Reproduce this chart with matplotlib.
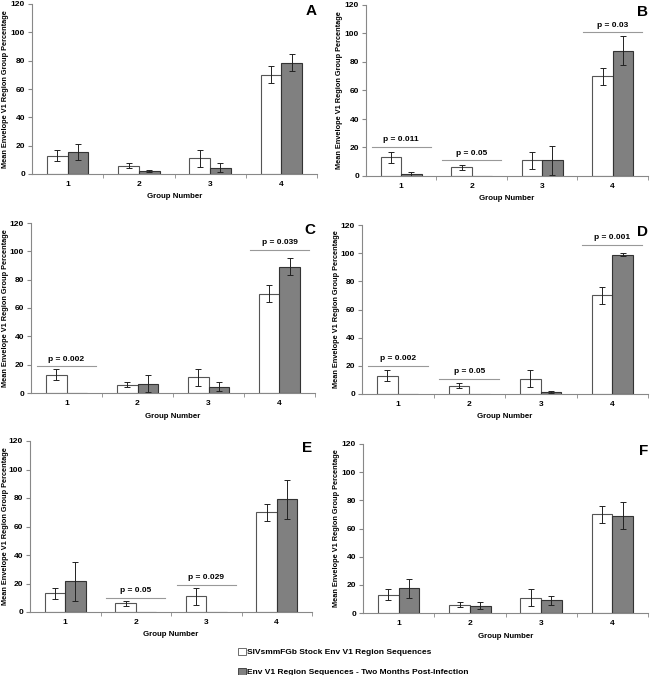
import matplotlib
matplotlib.use("Agg")
import matplotlib.pyplot as plt
import numpy as np
from matplotlib.patches import Patch

plt.rcParams["font.family"] = ["Liberation Sans", "DejaVu Sans"]
plt.rcParams["font.weight"] = "bold"

# %%
# data
groups = ["1", "2", "3", "4"]
stock_mean = [13, 6, 11, 70]
stock_err = [4, 2, 6, 6]

panels = ["A", "B", "C", "D", "E", "F"]
infect_mean = {
    "A": [15.5, 2, 4.5, 78.5],
    "B": [1.5, 0, 11, 88],
    "C": [0, 6.5, 4.5, 89],
    "D": [0, 0, 1.5, 99],
    "E": [21.5, 0, 0, 79],
    "F": [17.5, 5, 9, 69],
}
infect_err = {
    "A": [5.5, 0.8, 3, 6],
    "B": [1.5, 0, 10, 10],
    "C": [0, 6, 3, 6],
    "D": [0, 0, 0.8, 0.8],
    "E": [13.5, 0, 0, 13.5],
    "F": [6.5, 2.5, 3, 9.5],
}
# (group index, line height, label)
pvals = {
    "B": [(0, 20.5, "p = 0.011"), (1, 11, "p = 0.05"), (3, 101, "p = 0.03")],
    "C": [(0, 19, "p = 0.002"), (3, 101, "p = 0.039")],
    "D": [(0, 20, "p = 0.002"), (1, 11, "p = 0.05"), (3, 106, "p = 0.001")],
    "E": [(1, 10, "p = 0.05"), (2, 19, "p = 0.029")],
}

# axes rectangles in pixels: left, top, right, bottom
rects = {
    "A": (32, 4, 317, 174),
    "B": (366, 5, 648, 176),
    "C": (31, 223, 315, 393),
    "D": (362, 225, 648, 394),
    "E": (30, 441, 312, 612),
    "F": (363, 444, 648, 613),
}

W, H = 650, 675
fig = plt.figure(figsize=(6.5, 6.75), dpi=100)

x = np.arange(1, 5)
bw = 0.29
grey = "#808080"

for name in panels:
    l, t, r, b = rects[name]
    ax = fig.add_axes([l / W, 1 - b / H, (r - l) / W, (b - t) / H])
    ax.bar(x - bw / 2, stock_mean, bw, color="white", edgecolor="#555555", lw=0.8)
    ax.bar(x + bw / 2, infect_mean[name], bw, color=grey, edgecolor="#333333", lw=0.8)
    ax.errorbar(x - bw / 2, stock_mean, yerr=stock_err, fmt="none",
                ecolor="#222222", elinewidth=0.7, capsize=2, capthick=0.7)
    ax.errorbar(x + bw / 2, infect_mean[name], yerr=infect_err[name], fmt="none",
                ecolor="#222222", elinewidth=0.7, capsize=2, capthick=0.7)

    for gi, yl, txt in pvals.get(name, []):
        xc = x[gi]
        ax.plot([xc - 0.42, xc + 0.42], [yl, yl], color="#999999", lw=0.8)
        ax.text(xc, yl + 2.5, txt, ha="center", va="bottom", fontsize=6, fontweight="bold")

    ax.set_xlim(0.5, 4.5)
    ax.set_ylim(0, 120)
    ax.set_yticks(range(0, 121, 20))
    ax.set_xticks(x)
    ax.set_xticklabels(groups)
    ax.set_xticks([1.5, 2.5, 3.5, 4.5], minor=True)
    ax.tick_params(axis="x", which="major", length=0, labelsize=6, pad=5)
    ax.tick_params(axis="x", which="minor", length=3, color="#888888")
    ax.tick_params(axis="y", length=3, color="#888888", labelsize=6, pad=2)
    for s in ["top", "right"]:
        ax.spines[s].set_visible(False)
    for s in ["left", "bottom"]:
        ax.spines[s].set_color("#888888")
        ax.spines[s].set_linewidth(0.8)
    ax.set_xlabel("Group Number", fontsize=5.7, fontweight="bold", labelpad=4)
    ax.set_ylabel("Mean Envelope V1 Region Group Percentage", fontsize=5.3,
                  fontweight="bold", va="center")
    lab_x = max(l - 26, 6)
    ax.yaxis.set_label_coords((lab_x - l) / (r - l), 0.5)
    ax.text(1.0, 1.0, name, transform=ax.transAxes, ha="right", va="top",
            fontsize=11, fontweight="bold")

handles = [
    Patch(facecolor="white", edgecolor="#555555", lw=0.6,
          label="SIVsmmFGb Stock Env V1 Region Sequences"),
    Patch(facecolor=grey, edgecolor="#333333", lw=0.6,
          label="Env V1 Region Sequences - Two Months Post-Infection"),
]
fig.legend(handles=handles, loc="upper left", bbox_to_anchor=(238 / W, 1 - 648 / H),
           frameon=False, fontsize=6, handlelength=0.9, handleheight=0.9,
           handletextpad=0.15, labelspacing=1.4, borderpad=0, borderaxespad=0)

fig.savefig("out.png", dpi=100)
